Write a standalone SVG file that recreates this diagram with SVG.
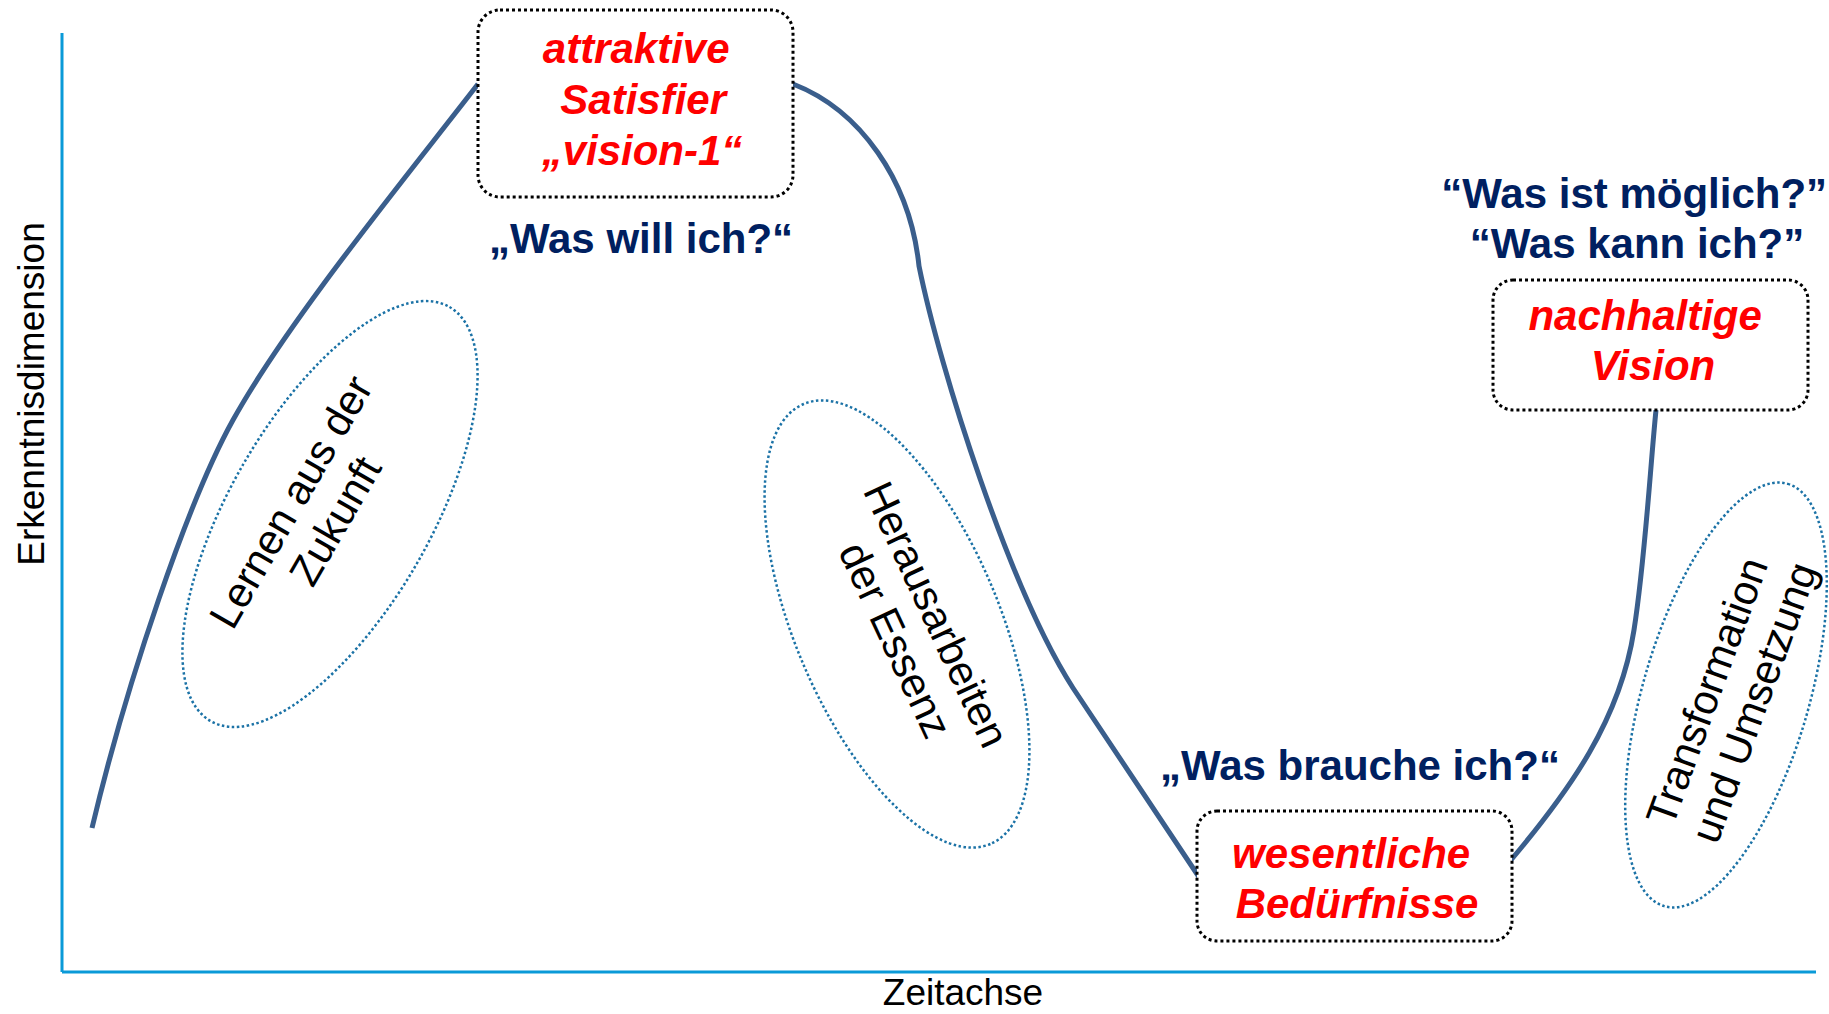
<svg xmlns="http://www.w3.org/2000/svg" width="1829" height="1014" viewBox="0 0 1829 1014">
  <style>
    .axis { stroke: #0a9ad8; stroke-width: 3; fill: none; }
    .axis-label { font-family: "Liberation Sans", Arial, sans-serif; font-size: 37px; fill: #000; }
    .curve { stroke: #3a5e8c; stroke-width: 5; fill: none; stroke-linecap: butt; }
    .box { fill: #fff; stroke: #000; stroke-width: 3; stroke-dasharray: 3 3; }
    .box-text { font-family: "Liberation Sans", Arial, sans-serif; font-size: 42px; font-weight: bold; font-style: italic; fill: #ff0000; text-anchor: middle; }
    .question { font-family: "Liberation Sans", Arial, sans-serif; font-size: 42px; font-weight: bold; fill: #002060; text-anchor: middle; }
    .phase { fill: none; stroke: #1b72a6; stroke-width: 2.5; stroke-dasharray: 2.5 2.5; }
    .phase-text { font-family: "Liberation Sans", Arial, sans-serif; font-size: 42px; fill: #000; text-anchor: middle; }
  </style>

  <rect width="1829" height="1014" fill="#fff"/>

  <!-- axes -->
  <g id="axes">
    <line class="axis" x1="62" y1="33" x2="62" y2="972"/>
    <line class="axis" x1="62" y1="972" x2="1816" y2="972"/>
    <text class="axis-label" x="963" y="1005" text-anchor="middle">Zeitachse</text>
    <text class="axis-label" transform="translate(44,394) rotate(-90)" text-anchor="middle">Erkenntnisdimension</text>
  </g>

  <!-- progression curve -->
  <g id="connectors">
    <path class="curve" d="M92,828 C127,681 188,501 233,420 C288,321 403,181 478,84"/>
    <path class="curve" d="M793,84 C860,110 910,180 919,266 C940,370 1010,590 1073,688 L1199,877"/>
    <path class="curve" d="M1511,860 C1570,790 1620,720 1634,630 C1645,560 1650,470 1656,410"/>
  </g>

  <!-- phases -->
  <g id="phase-lernen">
    <ellipse class="phase" cx="330" cy="514" rx="239" ry="100" transform="rotate(-60 330 514)"/>
    <text class="phase-text" transform="translate(327,516) rotate(-60)">
      <tspan x="0" y="-24">Lernen aus der</tspan>
      <tspan x="0" y="24">Zukunft</tspan>
    </text>
  </g>
  <g id="phase-essenz">
    <ellipse class="phase" cx="897" cy="624" rx="239" ry="102" transform="rotate(67 897 624)"/>
    <text class="phase-text" transform="translate(904,636) rotate(65)">
      <tspan x="0" y="-24">Herausarbeiten</tspan>
      <tspan x="0" y="24">der Essenz</tspan>
    </text>
  </g>
  <g id="phase-transformation">
    <ellipse class="phase" cx="1726" cy="695" rx="220" ry="83" transform="rotate(-73.7 1726 695)"/>
    <text class="phase-text" transform="translate(1745,699) rotate(-70)">
      <tspan x="0" y="-24">Transformation</tspan>
      <tspan x="0" y="24">und Umsetzung</tspan>
    </text>
  </g>

  <!-- stations -->
  <g id="node-satisfier">
    <rect class="box" x="478" y="10" width="315" height="187" rx="22"/>
    <text class="box-text">
      <tspan x="642" y="63">attraktive</tspan>
      <tspan x="649" y="114">Satisfier</tspan>
      <tspan x="642" y="165">„vision-1“</tspan>
    </text>
    <text class="question" x="641" y="253">„Was will ich?“</text>
  </g>

  <g id="node-beduerfnisse">
    <rect class="box" x="1197" y="811" width="315" height="130" rx="20"/>
    <text class="box-text">
      <tspan x="1357" y="868">wesentliche</tspan>
      <tspan x="1357" y="918">Bedürfnisse</tspan>
    </text>
    <text class="question" x="1360" y="780">„Was brauche ich?“</text>
  </g>

  <g id="node-vision">
    <rect class="box" x="1493" y="280" width="315" height="130" rx="20"/>
    <text class="box-text">
      <tspan x="1651" y="330">nachhaltige</tspan>
      <tspan x="1653" y="380">Vision</tspan>
    </text>
    <text class="question">
      <tspan x="1640" y="208">“Was ist möglich?”</tspan>
      <tspan x="1637" y="258">“Was kann ich?”</tspan>
    </text>
  </g>
</svg>
